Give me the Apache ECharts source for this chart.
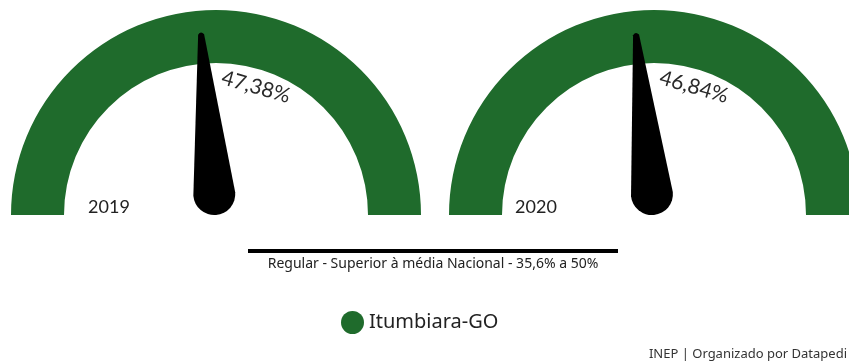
<!DOCTYPE html>
<html>
<head>
<meta charset="utf-8">
<script src="https://cdn.jsdelivr.net/npm/echarts@6/dist/echarts.min.js"></script>
<style>
  html, body { margin: 0; padding: 0; background: #ffffff; }
  #chart { width: 849px; height: 363px; }
</style>
</head>
<body>
<div id="chart"></div>
<script>
// Proficiency share per year (percent)
var years = ['2019', '2020'];
var values = [47.38, 46.84];
var cityName = 'Itumbiara-GO';
var bandLabel = 'Regular - Superior à média Nacional - 35,6% a 50%';
var sourceLabel = 'INEP | Organizado por Datapedi';

var GREEN = '#1f6b2c';
var centers = [[216, 215], [654, 215]];
var titleOffsets = [[-107, -8], [-118, -8]];

// Tapered needle with a round hub at its base
var needlePath = 'path://M17 3 Q20 -1 23 3 L41 163 A21 21 0 0 1 -1 163 Z';

function fmt(v) {
  return v.toFixed(2).replace('.', ',') + '%';
}

var series = years.map(function (y, i) {
  return {
    type: 'gauge',
    name: cityName,
    center: centers[i],
    radius: 205,
    startAngle: 180,
    endAngle: 0,
    min: 0,
    max: 100,
    axisLine: { lineStyle: { width: 53, color: [[1, GREEN]] } },
    axisTick: { show: false },
    splitLine: { show: false },
    axisLabel: { show: false },
    pointer: {
      icon: needlePath,
      length: 183,
      width: 42,
      itemStyle: { color: '#000000' }
    },
    anchor: { show: false },
    progress: { show: false },
    title: {
      offsetCenter: titleOffsets[i],
      fontSize: 18,
      color: '#222222',
      fontFamily: 'Lato'
    },
    detail: { show: false },
    animation: false,
    data: [{ value: values[i], name: y }]
  };
});

// Rotated value labels beside each needle
var valueTexts = values.map(function (v, i) {
  return {
    type: 'text',
    x: centers[i][0] + 40,
    y: centers[i][1] - 128,
    rotation: -16 * Math.PI / 180,
    style: {
      text: fmt(v),
      fontSize: 21,
      fill: '#2a2a2a',
      fontFamily: 'Lato',
      align: 'center',
      verticalAlign: 'middle'
    }
  };
});

var option = {
  backgroundColor: '#ffffff',
  animation: false,
  legend: {
    data: [{ name: cityName, itemStyle: { color: GREEN } }],
    icon: 'circle',
    itemWidth: 23,
    itemHeight: 23,
    itemGap: 8,
    left: 336,
    top: 306,
    selectedMode: false,
    textStyle: { fontSize: 20, color: '#222222', fontFamily: 'Noto Sans' }
  },
  series: series,
  graphic: valueTexts.concat([
    {
      type: 'rect',
      shape: { x: 248, y: 249, width: 370, height: 4 },
      style: { fill: '#000000' }
    },
    {
      type: 'text',
      x: 433,
      y: 264,
      style: {
        text: bandLabel,
        fontSize: 14,
        fill: '#222222',
        fontFamily: 'Noto Sans',
        align: 'center',
        verticalAlign: 'middle'
      }
    },
    {
      type: 'text',
      x: 847,
      y: 354,
      style: {
        text: sourceLabel,
        fontSize: 13,
        fill: '#333333',
        fontFamily: 'Noto Sans',
        align: 'right',
        verticalAlign: 'middle'
      }
    }
  ])
};

var chart = echarts.init(document.getElementById('chart'), null, { renderer: 'canvas' });
chart.setOption(option);
</script>
</body>
</html>
